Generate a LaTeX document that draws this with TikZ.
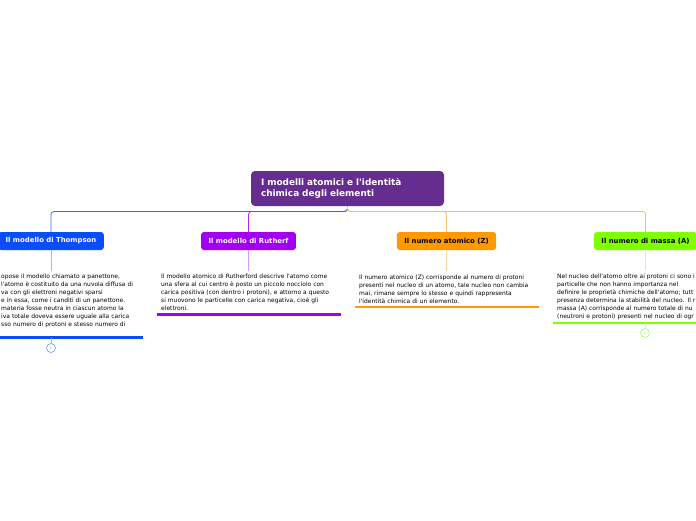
\documentclass[tikz,border=0pt]{standalone}
\usepackage{fontspec}
\newfontfamily\mapFont{DejaVu Sans}
\usetikzlibrary{calc}
\definecolor{rootCol}{HTML}{662D91}
\definecolor{thCol}{HTML}{0A4DFF}
\definecolor{ruCol}{HTML}{A200F2}
\definecolor{atCol}{HTML}{FF9900}
\definecolor{maCol}{HTML}{80FF00}

\begin{document}
\begin{tikzpicture}[x=1pt, y=-1pt,
    rootBox/.style={rectangle, rounded corners=4pt, fill=rootCol, text=white,
        minimum width=193pt, minimum height=35pt, inner xsep=10pt,
        text width=173pt, align=left, font=\mapFont\fontsize{8.9}{11.5}\selectfont\bfseries},
    childBox/.style={rectangle, rounded corners=3pt, minimum height=18pt,
        inner xsep=7.5pt, font=\mapFont\fontsize{6.9}{7}\selectfont\bfseries},
    noteText/.style={anchor=north west, text width=176pt, inner xsep=4pt, inner ysep=3.5pt,
        align=left, font=\mapFont\fontsize{5.95}{8}\selectfont},
    busLine/.style={line width=0.8pt, rounded corners=3pt},
    stemLine/.style={line width=0.8pt},
    noteLine/.style={line width=2.6pt},
    foldMark/.style={circle, draw, line width=0.6pt, minimum size=9pt, inner sep=0pt,
        font=\mapFont\fontsize{3.5}{4}\selectfont}
]
    \useasboundingbox (0,0) rectangle (696,520);

    % 中心のノード
    \node[rootBox] (Root) at (347.5,188.5) {I modelli atomici e l'identità\\chimica degli elementi};
    \coordinate (Bus) at (347.5,211.5);

    % 各トピック
    \node[childBox, fill=thCol, text=white] (Thompson) at (51,241) {Il modello di Thompson};
    \node[childBox, fill=ruCol, text=white] (Rutherford) at (248.5,241) {Il modello di Rutherf};
    \node[childBox, fill=atCol, text=black] (Atomico) at (446.5,241) {Il numero atomico (Z)};
    \node[childBox, fill=maCol, text=black] (Massa) at (645.5,241) {Il numero di massa (A)};

    % 中心から各トピックへ
    \draw[busLine, draw=thCol!85] (Root.south) -- (Bus) -| (Thompson.north);
    \draw[busLine, draw=ruCol!85] (Root.south) -- (Bus) -| (Rutherford.north);
    \draw[busLine, draw=atCol!60] (Root.south) -- (Bus) -| (Atomico.north);
    \draw[busLine, draw=maCol!85] (Root.south) -- (Bus) -| (Massa.north);

    % 説明文
    \node[noteText, text width=141pt, inner xsep=1pt] (ThText) at (0,270.5) {opose il modello chiamato a panettone,\\
        l'atomo è costituito da una nuvola diffusa di\\
        va con gli elettroni negativi sparsi\\
        e in essa, come i canditi di un panettone.\\
        materia fosse neutra in ciascun atomo la\\
        iva totale doveva essere uguale alla carica\\
        sso numero di protoni e stesso numero di};
    \node[noteText] (RuText) at (157,270.5) {Il modello atomico di Rutherford descrive l'atomo come\\
        una sfera al cui centro è posto un piccolo nocciolo con\\
        carica positiva (con dentro i protoni), e attorno a questo\\
        si muovono le particelle con carica negativa, cioè gli\\
        elettroni.};
    \node[noteText] (AtText) at (355,271) {Il numero atomico (Z) corrisponde al numero di protoni\\
        presenti nel nucleo di un atomo, tale nucleo non cambia\\
        mai, rimane sempre lo stesso e quindi rappresenta\\
        l'identità chimica di un elemento.};
    \node[noteText] (MaText) at (553,270) {Nel nucleo dell'atomo oltre ai protoni ci sono i\\
        particelle che non hanno importanza nel\\
        definire le proprietà chimiche dell'atomo; tutt\\
        presenza determina la stabilità del nucleo. Il r\\
        massa (A) corrisponde al numero totale di nu\\
        (neutroni e protoni) presenti nel nucleo di ogr};

    % トピックから説明文へ
    \draw[stemLine, draw=thCol!40] (Thompson.south) -- (Thompson.south |- ThText.north);
    \draw[stemLine, draw=ruCol!40] (Rutherford.south) -- (Rutherford.south |- RuText.north);
    \draw[stemLine, draw=atCol!40] (Atomico.south) -- (Atomico.south |- AtText.north);
    \draw[stemLine, draw=maCol!40] (Massa.south) -- (Massa.south |- MaText.north);

    % 下線
    \coordinate (ThLine) at ($(ThText.south west)+(0,6)$);
    \draw[noteLine, draw=thCol] (ThLine) -- (ThLine -| ThText.east);
    \draw[noteLine, draw=ruCol] (RuText.south west) -- (RuText.south east);
    \draw[noteLine, draw=atCol] (AtText.south west) -- (AtText.south east);
    \draw[noteLine, draw=maCol] (MaText.south west) -- (MaText.south east);

    % 折りたたみの印
    \node[foldMark, draw=thCol!60, text=thCol!60] (ThFold) at (51,348) {1};
    \node[foldMark, draw=maCol!70, text=maCol!70] (MaFold) at (645,333) {1};
    \draw[stemLine, draw=thCol!40] (ThFold.north) -- (ThFold.north |- ThLine);
    \draw[stemLine, draw=maCol!40] (MaFold.north) -- (MaFold.north |- MaText.south);
\end{tikzpicture}
\end{document}
